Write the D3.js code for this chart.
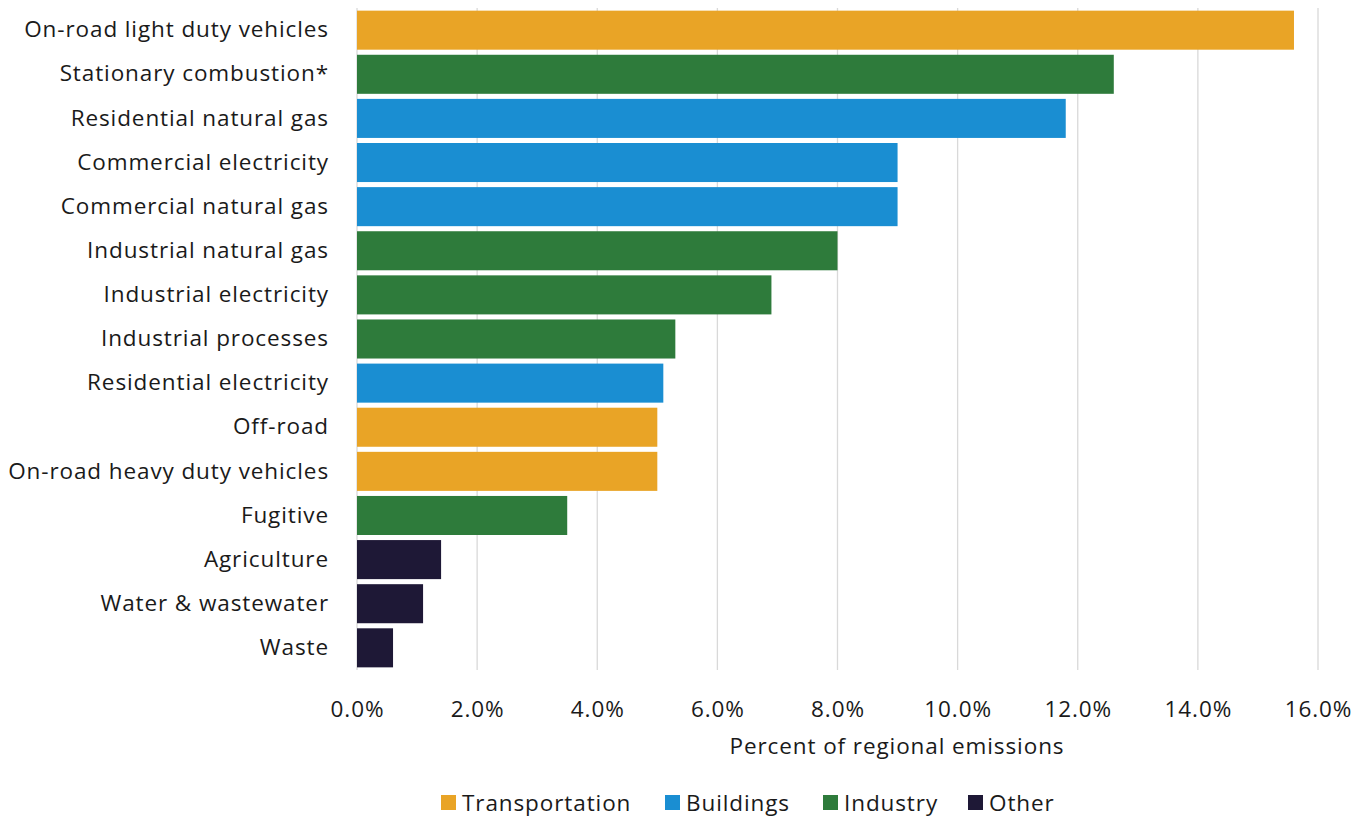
<!DOCTYPE html>
<html>
<head>
<meta charset="utf-8">
<script src="https://cdn.jsdelivr.net/npm/d3@7"></script>
<style>
  html, body { margin: 0; padding: 0; background: #ffffff; }
  svg text { font-family: "Open Sans", "DejaVu Sans", sans-serif; fill: #1a1a1a; letter-spacing: 0.9px; }
</style>
</head>
<body>
<svg id="chart" width="1367" height="816"></svg>
<script>
// Sources of regional greenhouse gas emissions, share of total (%)
const categories = [
  "On-road light duty vehicles",
  "Stationary combustion*",
  "Residential natural gas",
  "Commercial electricity",
  "Commercial natural gas",
  "Industrial natural gas",
  "Industrial electricity",
  "Industrial processes",
  "Residential electricity",
  "Off-road",
  "On-road heavy duty vehicles",
  "Fugitive",
  "Agriculture",
  "Water & wastewater",
  "Waste"
];
const values = [15.6, 12.6, 11.8, 9.0, 9.0, 8.0, 6.9, 5.3, 5.1, 5.0, 5.0, 3.5, 1.4, 1.1, 0.6];
const sectors = [
  "Transportation", "Industry", "Buildings", "Buildings", "Buildings",
  "Industry", "Industry", "Industry", "Buildings", "Transportation",
  "Transportation", "Industry", "Other", "Other", "Other"
];
const sectorNames = ["Transportation", "Buildings", "Industry", "Other"];
const sectorColors = ["#E9A426", "#1A8ED2", "#2E7B3B", "#1E1836"];
const xTicks = [0, 2, 4, 6, 8, 10, 12, 14, 16];
const xTitle = "Percent of regional emissions";

const svg = d3.select("#chart");
const margin = { top: 8, left: 357, right: 49, bottom: 146 };
const W = 1367, H = 816;
const FS = 22.5;

const x = d3.scaleLinear().domain([0, 16]).range([margin.left, W - margin.right]);
const y = d3.scaleBand().domain(categories).range([margin.top, H - margin.bottom]).paddingInner(0.115).paddingOuter(0.06);
const color = d3.scaleOrdinal().domain(sectorNames).range(sectorColors);

// vertical gridlines
svg.append("g")
  .selectAll("line")
  .data(xTicks)
  .join("line")
  .attr("x1", d => x(d)).attr("x2", d => x(d))
  .attr("y1", margin.top).attr("y2", H - margin.bottom)
  .attr("stroke", "#d9d9d9").attr("stroke-width", 1.3);

// bars
svg.append("g")
  .selectAll("rect")
  .data(categories)
  .join("rect")
  .attr("x", x(0))
  .attr("y", d => y(d))
  .attr("width", (d, i) => x(values[i]) - x(0))
  .attr("height", y.bandwidth())
  .attr("fill", (d, i) => color(sectors[i]));

// category labels
const yAxis = d3.axisLeft(y).tickSize(0).tickPadding(28);
const gy = svg.append("g").attr("transform", `translate(${x(0)},0)`).call(yAxis);
gy.select(".domain").remove();
gy.selectAll("text").attr("font-size", FS).style("font-family", '"Open Sans", sans-serif').attr("fill", "#1a1a1a");

// x axis tick labels
const xAxis = d3.axisBottom(x).tickValues(xTicks).tickSize(0).tickPadding(31).tickFormat(d => d3.format(".1f")(d) + "%");
const gx = svg.append("g").attr("transform", `translate(0,${H - margin.bottom})`).call(xAxis);
gx.select(".domain").remove();
gx.selectAll("text").attr("font-size", FS).style("font-family", '"Open Sans", sans-serif').attr("fill", "#1a1a1a");

// x axis title
svg.append("text")
  .attr("x", 897)
  .attr("y", 754)
  .attr("text-anchor", "middle")
  .attr("font-size", FS)
  .text(xTitle);

// legend
const legendX = [441, 665, 823, 968];
const lg = svg.append("g");
sectorNames.forEach((s, i) => {
  const g = lg.append("g").attr("transform", `translate(${legendX[i]},795)`);
  g.append("rect").attr("width", 15).attr("height", 15).attr("fill", color(s));
  g.append("text").attr("x", 21).attr("y", 15.5).attr("font-size", FS).text(s);
});
</script>
</body>
</html>
